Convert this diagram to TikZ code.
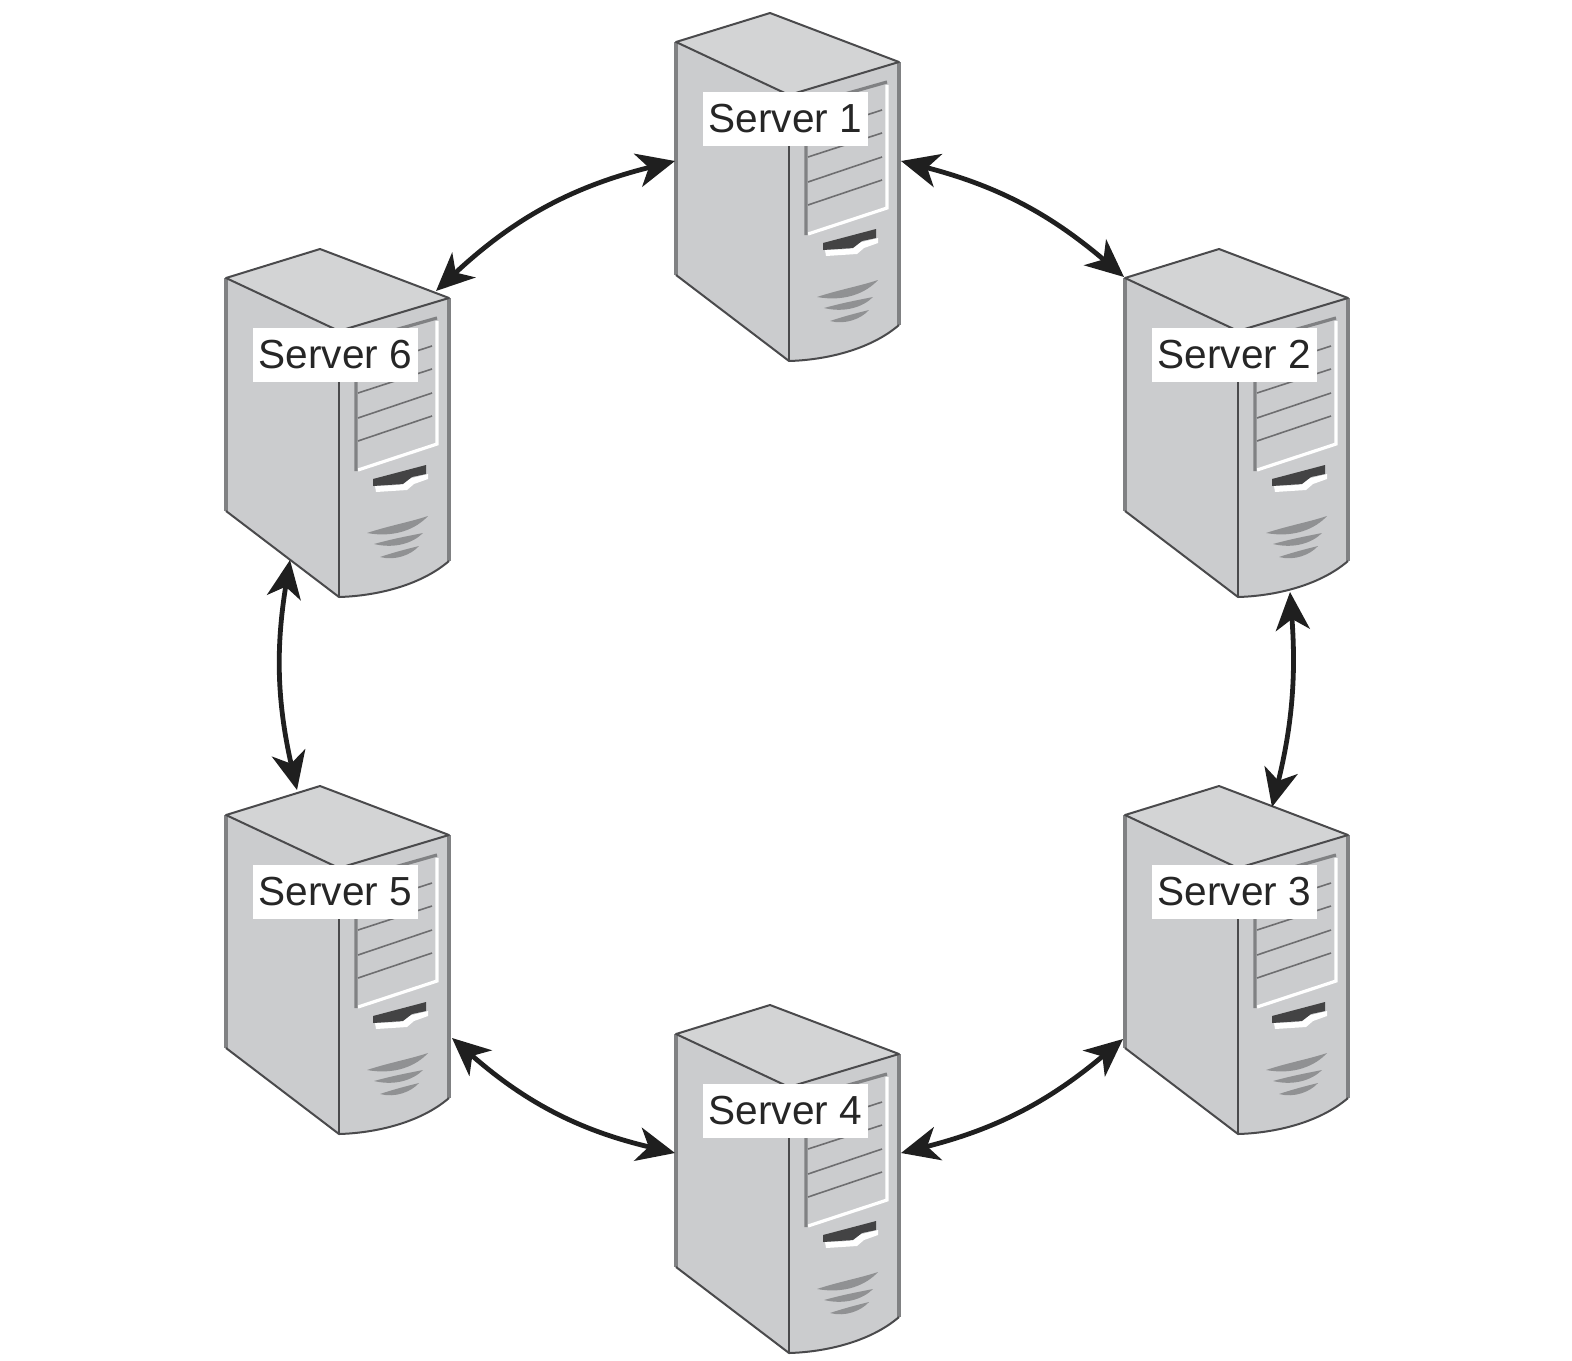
\documentclass[tikz,border=0pt]{standalone}
\usepackage{fontspec}
\setmainfont{Liberation Sans}
\usetikzlibrary{arrows.meta}

\definecolor{bodygray}{HTML}{CBCCCE}
\definecolor{topgray}{HTML}{D3D4D5}
\definecolor{edgedark}{HTML}{4A4A4C}
\definecolor{edgemid}{HTML}{808183}
\definecolor{ventgray}{HTML}{909193}

\tikzset{
  edgeline/.style={edgedark, line width=1pt, line join=round},
  sideline/.style={edgemid, line width=1.6pt},
  bayline/.style={edgedark!80, line width=0.8pt},
  servername/.style={fill=white, text=black!85, inner sep=0pt, minimum width=82.5pt, minimum height=27pt, font=\fontsize{20.3}{24}\selectfont},
  ringlink/.style={{Stealth[length=19pt,width=17pt,inset=5.5pt]}-{Stealth[length=19pt,width=17pt,inset=5.5pt]}, line width=2.4pt, black!88},
  server/.pic={
    % faces
    \fill[topgray]  (676,42) -- (770,13) -- (899,62) -- (789,95) -- cycle;
    \fill[bodygray] (676,42) -- (789,95) -- (789,361) -- (676,275) -- cycle;
    \fill[bodygray] (789,95) -- (899,62) -- (899,325) .. controls (870,350) and (825,360) .. (789,361) -- cycle;
    % bay
    \draw[white, line width=1.6pt] (808,234) -- (887,208) -- (887,85);
    \draw[sideline] (806,235) -- (806,105) -- (887,82);
    \draw[bayline] (808,134) -- (882,110);
    \draw[bayline] (808,157) -- (882,133);
    \draw[bayline] (808,182) -- (882,157);
    \draw[bayline] (808,205) -- (882,180);
    % slot
    \fill[white] (825,250) -- (850,249) -- (858,243) -- (878,238) -- (878,243) -- (864,248) -- (857,254) -- (826,256) -- cycle;
    \fill[edgedark!90!black] (823,243) -- (876,229) -- (876,238) -- (862,241) -- (853,248) -- (823,250) -- cycle;
    % vents
    \fill[ventgray] (817,297) .. controls (845,302) and (866,293) .. (878,280) .. controls (860,286) and (838,290) .. cycle;
    \fill[ventgray] (824,308) .. controls (845,313) and (863,307) .. (873,297) .. controls (858,300) and (842,303) .. cycle;
    \fill[ventgray] (830,321) .. controls (845,325) and (861,319) .. (869,310) .. controls (857,313) and (845,316) .. cycle;
    % outline
    \draw[sideline] (676,42) -- (676,275);
    \draw[sideline] (899,62) -- (899,325);
    \draw[edgeline] (789,95) -- (789,361);
    \draw[edgeline] (676,42) -- (770,13) -- (899,62) -- (789,95) -- cycle;
    \draw[edgeline] (676,275) -- (789,361) .. controls (825,360) and (870,350) .. (899,325);
    \node[servername] (-label) at (785.5,119) {#1};
    % link ends
    \coordinate (-west)  at (675,161);
    \coordinate (-east)  at (901,161);
    \coordinate (-nw)    at (675,41);
    \coordinate (-ne)    at (886,55);
    \coordinate (-lowe)  at (902,265);
    \coordinate (-loww)  at (674,266);
    \coordinate (-botr)  at (841,356);
    \coordinate (-botl)  at (740,324);
    \coordinate (-topr)  at (823,34);
    \coordinate (-topl)  at (747,17);
  }
}

\begin{document}
\begin{tikzpicture}[x=0.5pt, y=-0.5pt]

\useasboundingbox (0,0) rectangle (1572,1360);

\pic (s1) at (0,0)      {server=Server 1};
\pic (s2) at (449,236)  {server=Server 2};
\pic (s3) at (449,773)  {server=Server 3};
\pic (s4) at (0,992)    {server=Server 4};
\pic (s5) at (-450,773) {server=Server 5};
\pic (s6) at (-450,236) {server=Server 6};

\draw[ringlink] (s1-east) to[bend left=13]   (s2-nw);
\draw[ringlink] (s2-botr) to[bend left=9]    (s3-topr);
\draw[ringlink] (s3-loww) to[bend left=13]   (s4-east);
\draw[ringlink] (s4-west) to[bend left=14]   (s5-lowe);
\draw[ringlink] (s5-topl) to[bend left=11]   (s6-botl);
\draw[ringlink] (s6-ne)   to[bend left=14.5] (s1-west);

\end{tikzpicture}
\end{document}
